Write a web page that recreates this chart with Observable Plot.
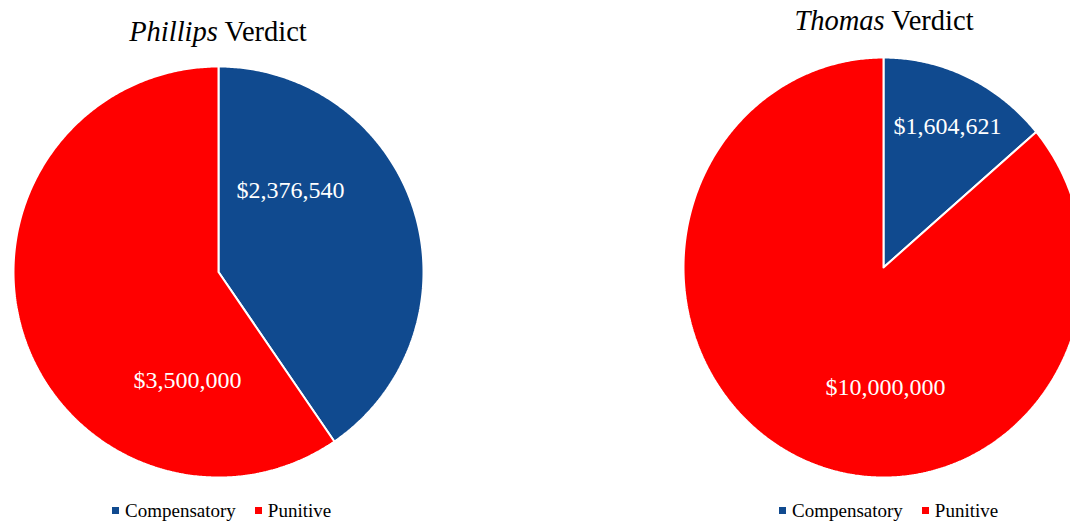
<!DOCTYPE html>
<html>
<head>
<meta charset="utf-8">
<script src="https://cdn.jsdelivr.net/npm/d3@7"></script>
<script src="https://cdn.jsdelivr.net/npm/@observablehq/plot@0.6"></script>
<style>
  html, body { margin: 0; padding: 0; background: #fff; }
  #wrap { position: relative; width: 1070px; height: 521px; overflow: hidden; font-family: "Liberation Serif", "Times New Roman", serif; }
  .pie { position: absolute; top: 0; }
  .title { position: absolute; font-size: 28.5px; color: #000; white-space: nowrap; transform: translateX(-50%); line-height: 1; }
  .legend { position: absolute; font-size: 19px; color: #000; white-space: nowrap; line-height: 1; display: flex; align-items: center; font-family: "Liberation Serif", "Times New Roman", serif; }
  .sw { display: inline-block; width: 7px; height: 7px; margin-right: 6px; }
  .item { display: inline-flex; align-items: center; margin-right: 19px; }
</style>
</head>
<body>
<div id="wrap"></div>
<script>
// ---- data ----
const categories = ["Compensatory", "Punitive"];
const phillipsValues = [2376540, 3500000];
const thomasValues = [1604621, 10000000];
const phillipsLabels = ["$2,376,540", "$3,500,000"];
const thomasLabels = ["$1,604,621", "$10,000,000"];
const colors = ["#104A8F", "#FF0000"];

// ---- layout ----
const charts = [
  {title: "Phillips", values: phillipsValues, labels: phillipsLabels, left: 0, width: 535,
   cx: 218, cy: 271.5, rx: 205, ry: 205.5, titleX: 218, titleTop: 18,
   labelPos: [[0.351, 0.398], [-0.151, -0.529]], legendLeft: 112},
  {title: "Thomas", values: thomasValues, labels: thomasLabels, left: 535, width: 535,
   cx: 883, cy: 267, rx: 200, ry: 210, titleX: 884, titleTop: 7,
   labelPos: [[0.32, 0.671], [0.01, -0.571]], legendLeft: 779}
];

const wrap = document.getElementById("wrap");

for (const c of charts) {
  const rows = categories.map((cat, i) => ({category: cat, value: c.values[i], label: c.labels[i], i}));
  const arcs = d3.pie().sort(null).value(d => d.value).startAngle(0).endAngle(2 * Math.PI)(rows);
  const pts = [];
  for (const a of arcs) {
    const cat = a.data.category;
    pts.push({category: cat, x: 0, y: 0});
    const n = Math.max(2, Math.ceil((a.endAngle - a.startAngle) / (Math.PI / 360)));
    for (let k = 0; k <= n; k++) {
      const t = a.startAngle + (a.endAngle - a.startAngle) * k / n;
      pts.push({category: cat, x: Math.sin(t), y: Math.cos(t)});
    }
    pts.push({category: cat, x: 0, y: 0});
  }
  const labelRows = rows.map((r, i) => ({text: r.label, x: c.labelPos[i][0], y: c.labelPos[i][1]}));
  const lx = c.cx - c.left;
  const plot = Plot.plot({
    width: c.width,
    height: 521,
    margin: 0,
    style: {background: "transparent", overflow: "hidden", maxWidth: "none"},
    x: {domain: [-1, 1], range: [lx - c.rx, lx + c.rx], axis: null},
    y: {domain: [-1, 1], range: [c.cy + c.ry, c.cy - c.ry], axis: null},
    color: {domain: categories, range: colors},
    marks: [
      Plot.line(pts, {x: "x", y: "y", z: "category", fill: "category", stroke: "white", strokeWidth: 2, strokeLinejoin: "miter"}),
      Plot.text(labelRows, {x: "x", y: "y", text: "text", fill: "white", fontSize: 24,
        fontFamily: "'Liberation Serif', 'Times New Roman', serif"})
    ]
  });
  plot.classList.add("pie");
  plot.style.left = c.left + "px";
  wrap.appendChild(plot);

  const t = document.createElement("div");
  t.className = "title";
  t.style.left = c.titleX + "px";
  t.style.top = c.titleTop + "px";
  t.innerHTML = `<i>${c.title}</i> Verdict`;
  wrap.appendChild(t);

  const lg = document.createElement("div");
  lg.className = "legend";
  lg.style.left = c.legendLeft + "px";
  lg.style.top = "501px";
  lg.innerHTML = categories.map((cat, i) =>
    `<span class="item"><span class="sw" style="background:${colors[i]}"></span>${cat}</span>`).join("");
  wrap.appendChild(lg);
}
</script>
</body>
</html>
